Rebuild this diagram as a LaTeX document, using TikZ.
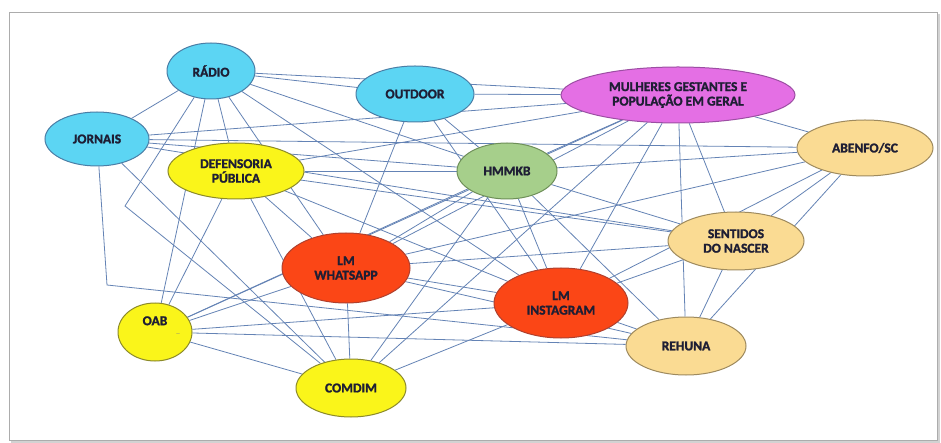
\documentclass[tikz,border=0pt]{standalone}
\usepackage{fontspec}
\setmainfont{Carlito}[BoldFont={Carlito Bold}, BoldFeatures={FakeBold=1.6}]
\usetikzlibrary{shapes.geometric}
\usetikzlibrary{backgrounds}
\usepackage{xcolor}
\definecolor{cyanfill}{HTML}{5CD5F3}
\definecolor{cyanline}{HTML}{4A7EA6}
\definecolor{yellowfill}{HTML}{FAF51A}
\definecolor{yellowline}{HTML}{8C8A2A}
\definecolor{greenfill}{HTML}{A6CF8B}
\definecolor{greenline}{HTML}{6E8F58}
\definecolor{pinkfill}{HTML}{E46FE4}
\definecolor{pinkline}{HTML}{9C4EA3}
\definecolor{redfill}{HTML}{FB4616}
\definecolor{redline}{HTML}{B0402E}
\definecolor{sandfill}{HTML}{FADB93}
\definecolor{sandline}{HTML}{9E8A5E}
\definecolor{linkcol}{HTML}{6483B5}
\definecolor{textcol}{HTML}{1E1E34}

\begin{document}
\begin{tikzpicture}[x=1pt, y=-1pt,
    every node/.style={ellipse, draw, line width=1pt, inner sep=0pt, align=center,
        text=textcol, font=\bfseries\fontsize{13.5}{14.5}\selectfont},
    media/.style={fill=cyanfill, draw=cyanline},
    public/.style={fill=yellowfill, draw=yellowline},
    hospital/.style={fill=greenfill, draw=greenline},
    people/.style={fill=pinkfill, draw=pinkline},
    lmnode/.style={fill=redfill, draw=redline},
    network/.style={fill=sandfill, draw=sandline},
    link/.style={draw=linkcol, line width=0.8pt}]
    \useasboundingbox (0,0) rectangle (941,443);

    % nodes
    \node[media, minimum width=88pt, minimum height=56pt] (radio) at (211,71) {RÁDIO};
    \node[media, minimum width=104pt, minimum height=54pt] (jornais) at (97,139) {JORNAIS};
    \node[media, minimum width=118pt, minimum height=56pt] (outdoor) at (415,94) {OUTDOOR};
    \node[public, minimum width=136pt, minimum height=56pt] (defensoria) at (236,171) {DEFENSORIA\\PÚBLICA};
    \node[people, minimum width=234pt, minimum height=56pt] (mulheres) at (678,95) {MULHERES GESTANTES E\\POPULAÇÃO EM GERAL};
    \node[hospital, minimum width=100pt, minimum height=56pt] (hmmkb) at (507,171) {HMMKB};
    \node[network, minimum width=136pt, minimum height=56pt] (abenfo) at (865,148) {ABENFO/SC};
    \node[network, minimum width=136pt, minimum height=58pt] (sentidos) at (736,241) {SENTIDOS\\DO NASCER};
    \node[network, minimum width=120pt, minimum height=58pt] (rehuna) at (686,346) {REHUNA};
    \node[lmnode, minimum width=134pt, minimum height=70pt] (instagram) at (561,303) {LM\\INSTAGRAM};
    \node[lmnode, minimum width=128pt, minimum height=70pt] (whatsapp) at (346,268) {LM\\WHATSAPP};
    \node[public, minimum width=110pt, minimum height=58pt] (comdim) at (351,388) {COMDIM};
    \node[public, minimum width=74pt, minimum height=58pt] (oab) at (155,332) {OAB\\[8pt]};
    \node[draw=none, text=gray, font=\fontsize{7}{8}\selectfont] (oabmark) at (178,334) {\_};

    \coordinate (bendradio) at (125,206);
    \coordinate (bendjornais) at (107,285);

    \begin{scope}[on background layer]
    % frame
    \fill[gray!35] (11,14) rectangle (940,443);
    \draw[gray!65, fill=white] (9,12) rectangle (937,440);

    % links
    \draw[link] (radio) -- (mulheres);
    \draw[link] (radio) -- (outdoor);
    \draw[link] (radio) -- (hmmkb);
    \draw[link] (radio) -- (instagram);
    \draw[link] (radio) -- (whatsapp);
    \draw[link] (radio) -- (defensoria);
    \draw[link] (radio) -- (jornais);
    \draw[link] (radio) -- (oab);
    \draw[link] (radio) -- (bendradio) -- (comdim);
    \draw[link] (jornais) -- (mulheres);
    \draw[link] (jornais) -- (hmmkb);
    \draw[link] (jornais) -- (abenfo);
    \draw[link] (jornais) -- (comdim);
    \draw[link] (jornais) -- (sentidos);
    \draw[link] (jornais) -- (bendjornais) -- (rehuna);
    \draw[link] (outdoor) -- (whatsapp);
    \draw[link] (outdoor) -- (instagram);
    \draw[link] (outdoor) -- (hmmkb);
    \draw[link] (outdoor) -- (mulheres);
    \draw[link] (mulheres) -- (defensoria);
    \draw[link] (mulheres) -- (hmmkb);
    \draw[link] (mulheres) -- (whatsapp);
    \draw[link] (mulheres) -- (instagram);
    \draw[link] (mulheres) -- (rehuna);
    \draw[link] (mulheres) -- (sentidos);
    \draw[link] (mulheres) -- (abenfo);
    \draw[link] (mulheres) -- (comdim);
    \draw[link] (mulheres) -- (oab);
    \draw[link] (hmmkb) -- (defensoria);
    \draw[link] (hmmkb) -- (abenfo);
    \draw[link] (hmmkb) -- (sentidos);
    \draw[link] (hmmkb) -- (instagram);
    \draw[link] (hmmkb) -- (rehuna);
    \draw[link] (hmmkb) -- (comdim);
    \draw[link] (hmmkb) -- (whatsapp);
    \draw[link] (hmmkb) -- (oab);
    \draw[link] (abenfo) -- (whatsapp);
    \draw[link] (abenfo) -- (sentidos);
    \draw[link] (abenfo) -- (rehuna);
    \draw[link] (abenfo) -- (instagram);
    \draw[link] (sentidos) -- (rehuna);
    \draw[link] (sentidos) -- (whatsapp);
    \draw[link] (sentidos) -- (instagram);
    \draw[link] (sentidos) -- (defensoria);
    \draw[link] (rehuna) -- (instagram);
    \draw[link] (rehuna) -- (whatsapp);
    \draw[link] (rehuna) -- (oab);
    \draw[link] (instagram) -- (whatsapp);
    \draw[link] (instagram) -- (comdim);
    \draw[link] (instagram) -- (oab);
    \draw[link] (instagram) -- (defensoria);
    \draw[link] (whatsapp) -- (comdim);
    \draw[link] (whatsapp) -- (oab);
    \draw[link] (whatsapp) -- (defensoria);
    \draw[link] (comdim) -- (oab);
    \draw[link] (comdim) -- (defensoria);
    \draw[link] (oab) -- (defensoria);
    \end{scope}
\end{tikzpicture}
\end{document}
